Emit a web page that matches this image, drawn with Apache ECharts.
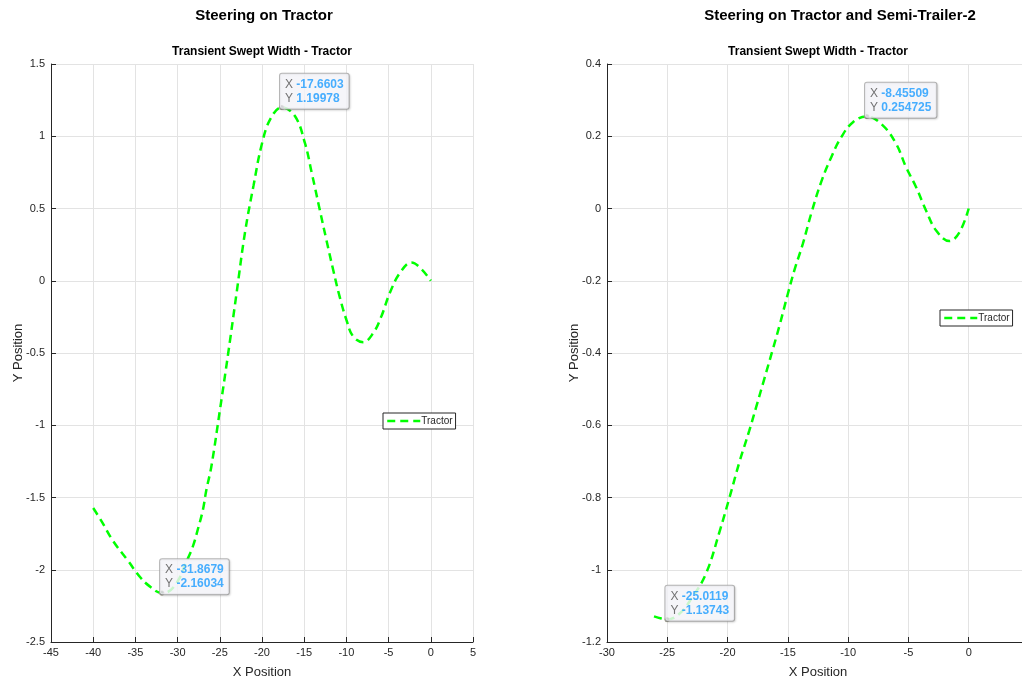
<!DOCTYPE html>
<html>
<head>
<meta charset="utf-8">
<title>Transient Swept Width - Tractor</title>
<script src="https://cdn.jsdelivr.net/npm/echarts@6/dist/echarts.min.js"></script>
<style>
  html, body { margin: 0; padding: 0; background: #fff; }
  #main { width: 1022px; height: 682px; }
</style>
</head>
<body>
<div id="main"></div>
<script>
// left panel: steering on tractor
const leftX = [-40, -39, -37.65, -35.85, -34.45, -33.3, -31.8679, -31.3, -30, -29, -28.2, -27.6, -27, -26.6, -26,
  -25, -24, -23, -22, -21, -20, -19, -17.6603, -16.1, -14.9, -14.1, -13.15, -12.36, -11.57, -10.8,
  -10, -9.2, -8, -6.8, -5.85, -4.86, -3.67, -2.29, -1.1, 0];
const leftY = [-1.573, -1.665, -1.8, -1.94, -2.05, -2.115, -2.16034, -2.157, -2.08, -1.95, -1.84, -1.72, -1.585, -1.45, -1.285,
  -0.9, -0.5, -0.08, 0.34, 0.66, 0.95, 1.12, 1.19978, 1.14, 0.95, 0.745, 0.49, 0.28, 0.076, -0.11,
  -0.27, -0.385, -0.425, -0.36, -0.245, -0.085, 0.053, 0.127, 0.08, 0];

// right panel: steering on tractor and semi-trailer-2
const rightX = [-26.1, -25.5, -25.0119, -24, -23, -21.78, -20.67, -19.84, -19, -18.2, -17.63, -16.94, -16.25, -15.7,
  -15, -14.45, -13.76, -13.07, -12.24, -11.4, -10.58, -9.6, -8.45509, -7.13, -6.02, -5.19, -4.36, -3.53,
  -2.7, -1.6, -0.77, 0];
const rightY = [-1.129, -1.135, -1.13743, -1.122, -1.08, -1.01, -0.895, -0.8, -0.7, -0.615, -0.55, -0.47, -0.39, -0.325,
  -0.236, -0.17, -0.098, -0.015, 0.073, 0.142, 0.197, 0.239, 0.254725, 0.23, 0.179, 0.114, 0.059, -0.006,
  -0.061, -0.09, -0.066, 0];

// data tips
const leftTips = [[-17.6603, 1.19978], [-31.8679, -2.16034]];
const rightTips = [[-8.45509, 0.254725], [-25.0119, -1.13743]];

const ink = '#262626';
const font = "'Liberation Sans', Arial, Helvetica, sans-serif";

function zip(xs, ys) {
  return xs.map((x, i) => [x, ys[i]]);
}

function xAxisFor(gridIndex, min, max) {
  return {
    type: 'value', gridIndex: gridIndex, min: min, max: max, interval: 5,
    name: 'X Position', nameLocation: 'middle', nameGap: 24, nameMoveOverlap: false,
    nameTextStyle: { color: ink, fontSize: 13, fontFamily: font },
    axisLine: { show: true, onZero: false, lineStyle: { color: ink, width: 1 } },
    axisTick: { show: true, inside: true, length: 5, lineStyle: { color: ink } },
    axisLabel: { color: ink, fontSize: 11, fontFamily: font, margin: 5 },
    splitLine: { show: true, lineStyle: { color: '#e3e3e3' } }
  };
}

function yAxisFor(gridIndex, min, max, step) {
  return {
    type: 'value', gridIndex: gridIndex, min: min, max: max, interval: step,
    name: 'Y Position', nameLocation: 'middle', nameGap: 26, nameMoveOverlap: false,
    nameTextStyle: { color: ink, fontSize: 13, fontFamily: font },
    axisLine: { show: true, onZero: false, lineStyle: { color: ink, width: 1 } },
    axisTick: { show: true, inside: true, length: 5, lineStyle: { color: ink } },
    axisLabel: { color: ink, fontSize: 11, fontFamily: font, margin: 6 },
    splitLine: { show: true, lineStyle: { color: '#e3e3e3' } }
  };
}

function tipSeries(idx, p) {
  return {
    type: 'scatter', name: 'tip', xAxisIndex: idx, yAxisIndex: idx,
    data: [p], symbolSize: 5, z: 10,
    itemStyle: { color: '#111', borderColor: '#ffffcc', borderWidth: 0.5 },
    silent: true,
    label: {
      show: true, position: [1, 4], align: 'left', verticalAlign: 'bottom',
      formatter: '{k|X} {v|' + p[0] + '}\n{k|Y} {v|' + p[1] + '}',
      backgroundColor: '#fafaff', borderColor: '#a6a6a6', borderWidth: 1, borderRadius: 2,
      padding: [4, 5, 3, 5],
      shadowColor: 'rgba(0,0,0,0.15)', shadowBlur: 2, shadowOffsetX: 1, shadowOffsetY: 1,
      rich: {
        k: { color: '#505050', fontSize: 12, fontFamily: font, lineHeight: 14 },
        v: { color: '#1a9bff', fontSize: 12, fontWeight: 'bold', fontFamily: font, lineHeight: 14 }
      }
    }
  };
}

function tractorSeries(idx, data) {
  return {
    type: 'line', name: 'Tractor', xAxisIndex: idx, yAxisIndex: idx,
    data: data, symbol: 'none', smooth: 0.4, clip: true,
    lineStyle: { color: '#00ff00', width: 2.5, type: [8, 5] },
    itemStyle: { color: '#00ff00' }
  };
}

function legendAt(left, top) {
  return {
    data: ['Tractor'], left: left, top: top, orient: 'vertical',
    padding: [3, 3, 3, 3], itemWidth: 33, itemHeight: 9,
    borderColor: ink, borderWidth: 1, backgroundColor: '#fff', borderRadius: 0,
    selectedMode: false,
    itemStyle: { opacity: 0 },
    lineStyle: { width: 2.5, type: [8, 5] },
    textStyle: { color: ink, fontSize: 10, fontFamily: font, padding: [0, 0, 0, -4] }
  };
}

const chart = echarts.init(document.getElementById('main'), null, { renderer: 'canvas' });

const option = {
  animation: false,
  backgroundColor: '#fff',
  title: [
    { text: 'Steering on Tractor', left: 264, top: 8, textAlign: 'center', padding: 0,
      textStyle: { fontSize: 15, fontWeight: 'bold', color: '#000', fontFamily: font } },
    { text: 'Transient Swept Width - Tractor', left: 262, top: 46, textAlign: 'center', padding: 0,
      textStyle: { fontSize: 12, fontWeight: 'bold', color: '#000', fontFamily: font } },
    { text: 'Steering on Tractor and Semi-Trailer-2', left: 840, top: 8, textAlign: 'center', padding: 0,
      textStyle: { fontSize: 15, fontWeight: 'bold', color: '#000', fontFamily: font } },
    { text: 'Transient Swept Width - Tractor', left: 818, top: 46, textAlign: 'center', padding: 0,
      textStyle: { fontSize: 12, fontWeight: 'bold', color: '#000', fontFamily: font } }
  ],
  legend: [legendAt(383, 413), legendAt(940, 310)],
  grid: [
    { left: 51, top: 64, width: 422, height: 578, outerBoundsMode: 'none' },
    { left: 607, top: 64, width: 422, height: 578, outerBoundsMode: 'none' }
  ],
  xAxis: [xAxisFor(0, -45, 5), xAxisFor(1, -30, 5)],
  yAxis: [yAxisFor(0, -2.5, 1.5, 0.5), yAxisFor(1, -1.2, 0.4, 0.2)],
  series: [
    tractorSeries(0, zip(leftX, leftY)),
    tractorSeries(1, zip(rightX, rightY)),
    tipSeries(0, leftTips[0]),
    tipSeries(0, leftTips[1]),
    tipSeries(1, rightTips[0]),
    tipSeries(1, rightTips[1])
  ]
};

chart.setOption(option);
</script>
</body>
</html>
